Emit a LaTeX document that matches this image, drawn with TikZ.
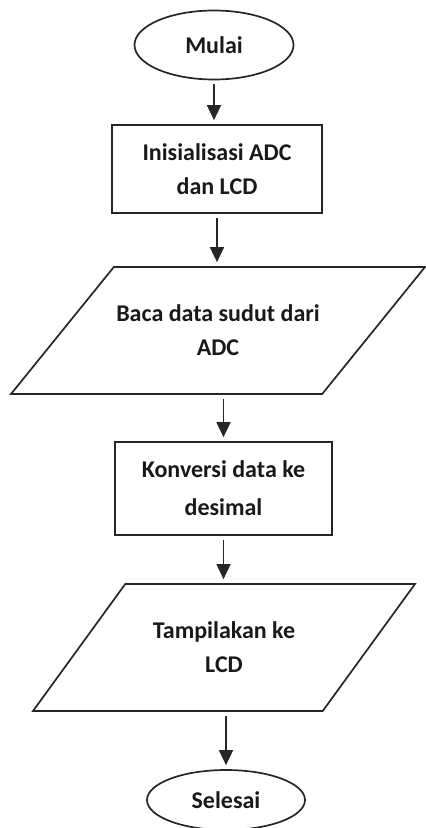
\documentclass[tikz,border=0pt]{standalone}
\usepackage{fontspec}
\setmainfont{Carlito}
\usetikzlibrary{shapes.geometric,arrows.meta}

\begin{document}
\begin{tikzpicture}[x=1pt,y=-1pt]
		\tikzset{
			box/.style={draw=black!85,line width=1.7pt,align=center,text=black!90,
				font=\bfseries\fontsize{24}{34}\selectfont},
			term/.style={box,ellipse,inner sep=0pt},
			proc/.style={box,rectangle},
			io/.style={box,trapezium,trapezium stretches body,inner xsep=0pt,inner ysep=38pt},
			flow/.style={-{Triangle[length=15pt,width=14pt]},line width=1.7pt,black!85,
				shorten <=4pt,shorten >=4pt}
		}
		\useasboundingbox (0,0) rectangle (426,828);
		\node (1) at (214,45) [term,minimum width=159pt,minimum height=69pt] {Mulai};
		\node (2) at (217,169) [proc,minimum width=210pt,minimum height=88pt] {Inisialisasi ADC\\dan LCD};
		\node (3) at (218,330.5) [io,trapezium left angle=51,trapezium right angle=129,
			minimum width=414pt] {Baca data sudut dari\\ADC};
		\node (4) at (223.5,488.5) [proc,minimum width=217pt,minimum height=93pt] {Konversi data ke\\[4pt]desimal};
		\node (5) at (224,647.5) [io,trapezium left angle=54,trapezium right angle=126,
			minimum width=382pt] {Tampilakan ke\\LCD};
		\node (6) at (226,800) [term,minimum width=158pt,minimum height=60pt] {Selesai};
		
		%Panah
		\draw[flow] (1) -- (1 |- 2.north);
		\draw[flow] (2.south) -- (2.south |- 3.north);
		\draw[flow] (3.south -| 4) -- (4);
		\draw[flow] (4) -- (4 |- 5.north);
		\draw[flow] (5.south -| 6) -- (6);
	\end{tikzpicture}
\end{document}
